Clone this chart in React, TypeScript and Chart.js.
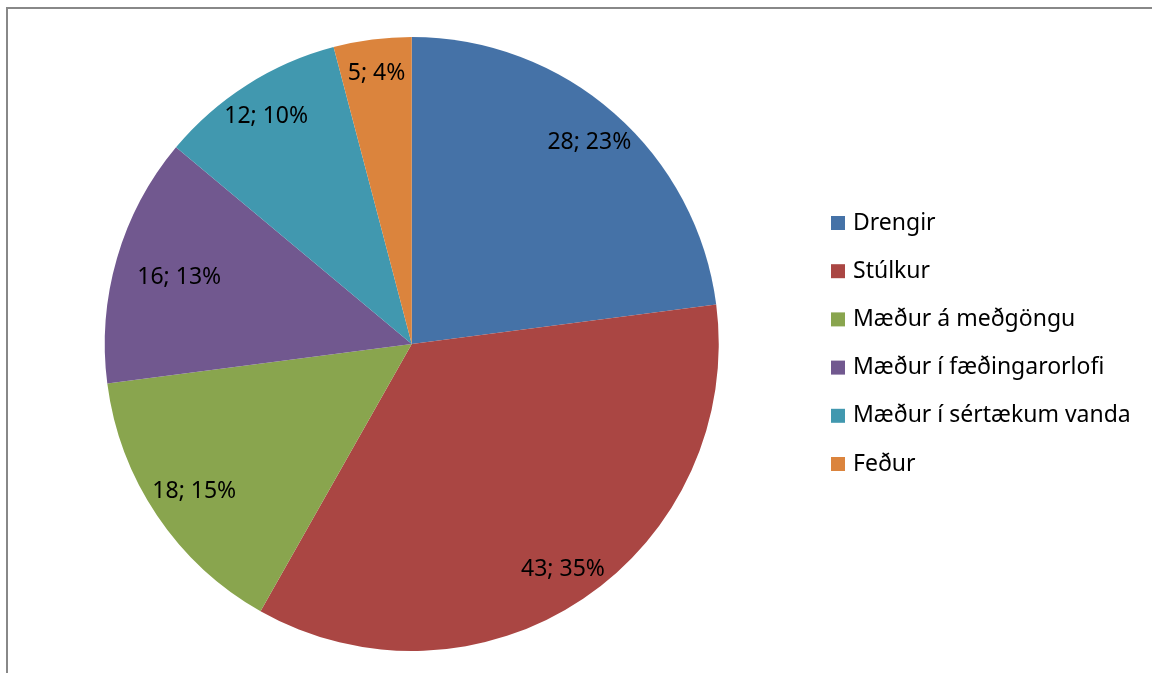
import React, { useEffect, useRef } from "react";
import { Chart, registerables } from "chart.js";

Chart.register(...registerables);

const categories = [
  "Drengir",
  "Stúlkur",
  "Mæður á meðgöngu",
  "Mæður í fæðingarorlofi",
  "Mæður í sértækum vanda",
  "Feður",
];
const counts = [28, 43, 18, 16, 12, 5];
const percentLabels = ["23%", "35%", "15%", "13%", "10%", "4%"];
const colors = ["#4572A7", "#AA4643", "#89A54E", "#71588F", "#4198AF", "#DB843D"];

const FONT = '"Noto Sans", sans-serif';

// "inside end" label placement: the label box sits just inside the rim, along the slice's mid angle
const sliceLabels = {
  id: "sliceLabels",
  afterDatasetsDraw(chart: any) {
    const ctx = chart.ctx;
    const meta = chart.getDatasetMeta(0);
    ctx.save();
    ctx.font = `23px ${FONT}`;
    ctx.fillStyle = "#000";
    ctx.textAlign = "center";
    ctx.textBaseline = "middle";
    meta.data.forEach((arc: any, i: number) => {
      const { startAngle, endAngle, outerRadius, x, y } = arc.getProps(
        ["startAngle", "endAngle", "outerRadius", "x", "y"],
        true
      );
      const mid = (startAngle + endAngle) / 2;
      const text = `${chart.data.datasets[0].data[i]}; ${percentLabels[i]}`;
      const hw = ctx.measureText(text).width / 2 + 3;
      const hh = 15;
      const ux = Math.cos(mid);
      const uy = Math.sin(mid);
      const t = Math.min(hw / Math.max(Math.abs(ux), 1e-6), hh / Math.max(Math.abs(uy), 1e-6));
      const r = outerRadius - 18 - t;
      ctx.fillText(text, x + ux * r, y + uy * r + 1);
    });
    ctx.restore();
  },
};

const sideLegend = {
  id: "sideLegend",
  afterDraw(chart: any) {
    const ctx = chart.ctx;
    const labels = chart.data.labels as string[];
    const bg = chart.data.datasets[0].backgroundColor as string[];
    const boxX = 831;
    const textX = 853;
    const firstY = 223;
    const step = 48.2;
    ctx.save();
    ctx.font = `23px ${FONT}`;
    ctx.textAlign = "left";
    ctx.textBaseline = "middle";
    labels.forEach((lab, i) => {
      const cy = firstY + i * step;
      ctx.fillStyle = bg[i];
      ctx.fillRect(boxX, cy - 7, 14, 14);
      ctx.fillStyle = "#000";
      ctx.fillText(lab, textX, cy);
    });
    ctx.restore();
  },
};

export default function App() {
  const ref = useRef<HTMLCanvasElement | null>(null);
  useEffect(() => {
    document.body.style.margin = "0";
    const chart = new Chart(ref.current!, {
      type: "pie",
      data: {
        labels: categories,
        datasets: [
          {
            data: counts,
            backgroundColor: colors,
            borderWidth: 0,
          },
        ],
      },
      options: {
        animation: false,
        responsive: false,
        maintainAspectRatio: false,
        layout: { padding: { left: 104.5, right: 433, top: 37, bottom: 22 } },
        plugins: {
          legend: { display: false },
          tooltip: { enabled: false },
        },
      },
      plugins: [sliceLabels, sideLegend],
    });
    return () => chart.destroy();
  }, []);
  return (
    <div style={{ position: "fixed", left: 0, top: 0, width: 1152, height: 673, background: "#fff" }}>
      <div
        style={{
          position: "absolute",
          left: 6,
          top: 7,
          width: 1152,
          height: 673,
          borderTop: "2px solid #888",
          borderLeft: "2px solid #888",
          boxSizing: "border-box",
        }}
      />
      <canvas ref={ref} width={1152} height={673} style={{ position: "absolute", left: 0, top: 0 }} />
    </div>
  );
}
